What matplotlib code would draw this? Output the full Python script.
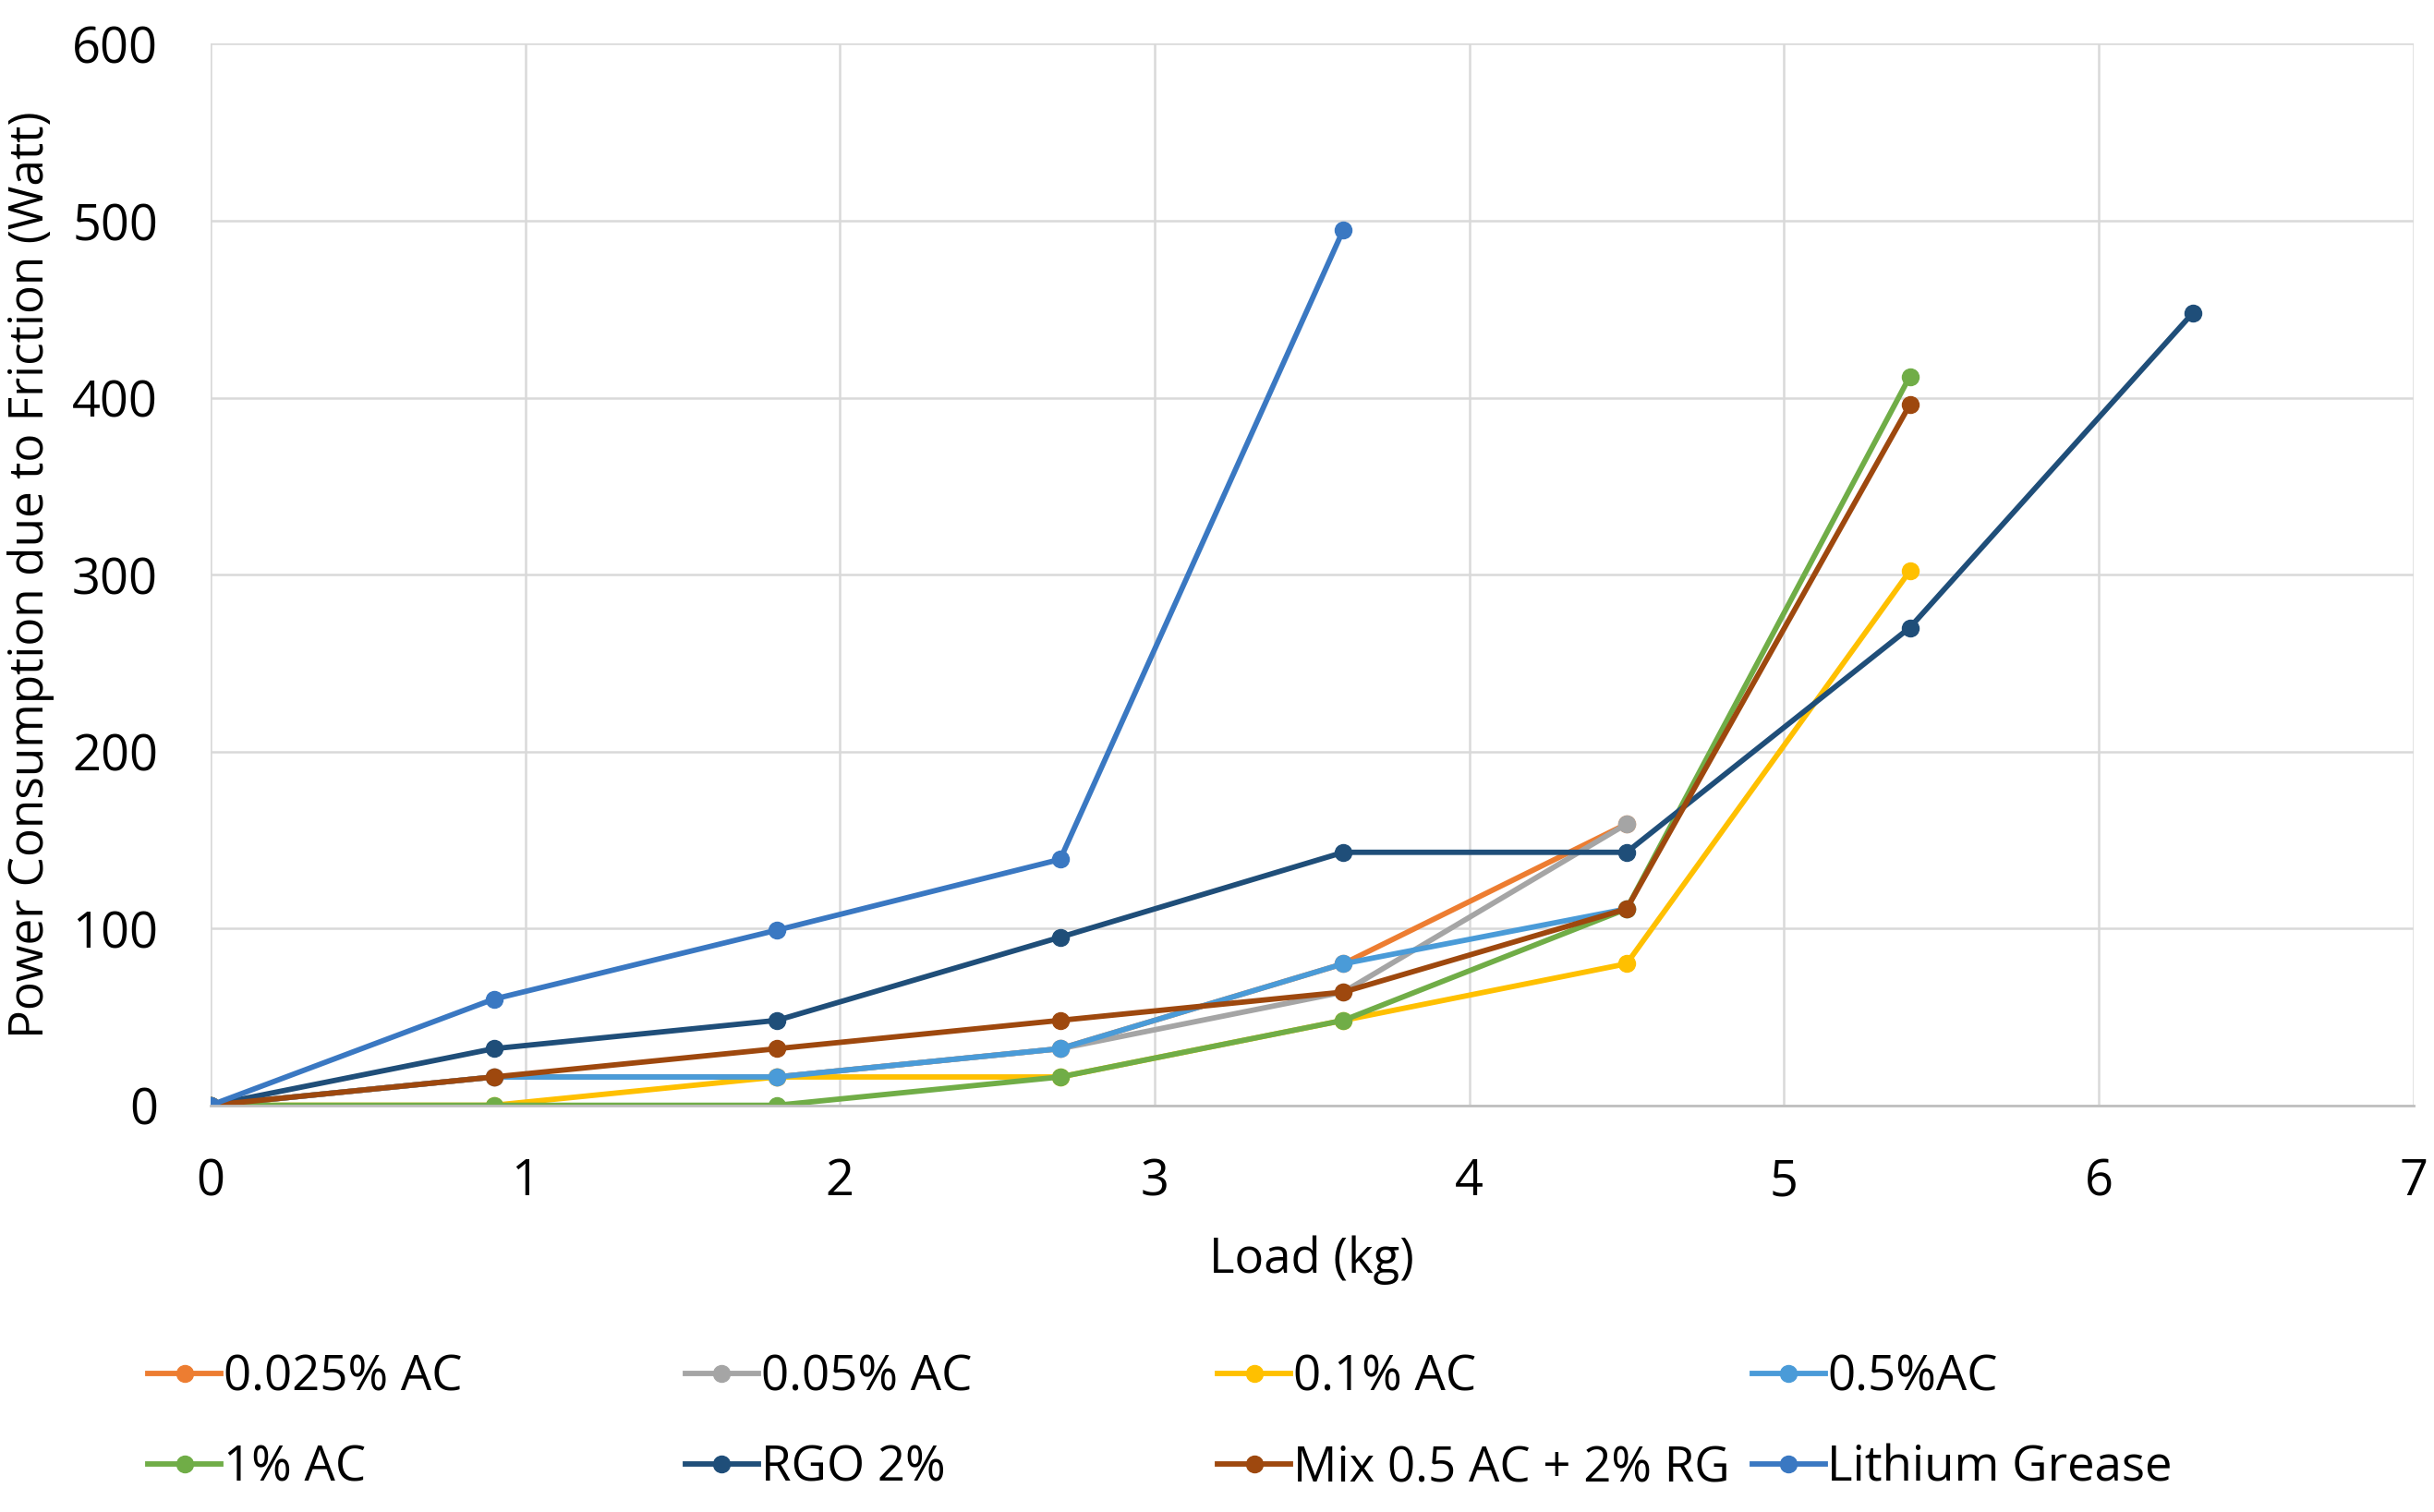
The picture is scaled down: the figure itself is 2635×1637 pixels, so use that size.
import matplotlib
matplotlib.use("Agg")
from matplotlib import pyplot as plt

plt.rcParams['font.family'] = ['Open Sans', 'DejaVu Sans']

load = [0, 0.9, 1.8, 2.7, 3.6, 4.5, 5.4, 6.3]

ac_0025 = [0, 16, 16, 32, 80, 159]
ac_005 = [0, 16, 16, 32, 64, 159]
ac_01 = [0, 0, 16, 16, 48, 80, 302]
ac_05 = [0, 16, 16, 32, 80, 111]
ac_1 = [0, 0, 0, 16, 48, 111, 412]
rgo_2 = [0, 32, 48, 95, 143, 143, 270, 448]
mix = [0, 16, 32, 48, 64, 111, 396]
lithium = [0, 60, 99, 139, 495]

names = ['0.025% AC', '0.05% AC', '0.1% AC', '0.5%AC',
         '1% AC', 'RGO 2%', 'Mix 0.5 AC + 2% RG', 'Lithium Grease']
series = [ac_0025, ac_005, ac_01, ac_05, ac_1, rgo_2, mix, lithium]
colors = ['#ED7D31', '#A5A5A5', '#FFC000', '#4A9BD8',
          '#70AD47', '#1F4E79', '#9E480E', '#3A78C2']

fig = plt.figure(figsize=(26.35, 16.37), dpi=100)
ax = fig.add_axes([0.0865, 0.269, 0.905, 0.702])

handles = []
for vals, name, col in zip(series, names, colors):
    h, = ax.plot(load[:len(vals)], vals, color=col, lw=4.2, marker='o',
                 markersize=13, label=name)
    handles.append(h)

ax.set_xlim(0, 7)
ax.set_ylim(0, 600)
ax.set_xticks(range(0, 8))
ax.set_yticks(range(0, 601, 100))
ax.grid(True, color='#D9D9D9', lw=1.8)
ax.set_axisbelow(True)
for s in ['top', 'right', 'left']:
    ax.spines[s].set_visible(False)
ax.spines['bottom'].set_color('#BFBFBF')
ax.spines['bottom'].set_linewidth(2)
ax.tick_params(axis='x', length=0, labelsize=39, pad=40)
ax.tick_params(axis='y', length=0, labelsize=39, pad=41)
ax.set_xlabel('Load (kg)', fontsize=38, labelpad=22)
ax.set_ylabel('Power Consumption due to Friction (Watt)', fontsize=37, labelpad=14)

# legend entries sit in a fixed 4x2 grid like Excel
col_x = [0.0608, 0.2815, 0.5003, 0.7198]
row_y = [0.0886, 0.0288]
for i, (h, name) in enumerate(zip(handles, names)):
    fig.legend([h], [name], loc='center left',
               bbox_to_anchor=(col_x[i % 4], row_y[i // 4]),
               fontsize=38, frameon=False, handlelength=1.5,
               handletextpad=0.05, borderpad=0, borderaxespad=0)

fig.savefig('out.png', dpi=100)
